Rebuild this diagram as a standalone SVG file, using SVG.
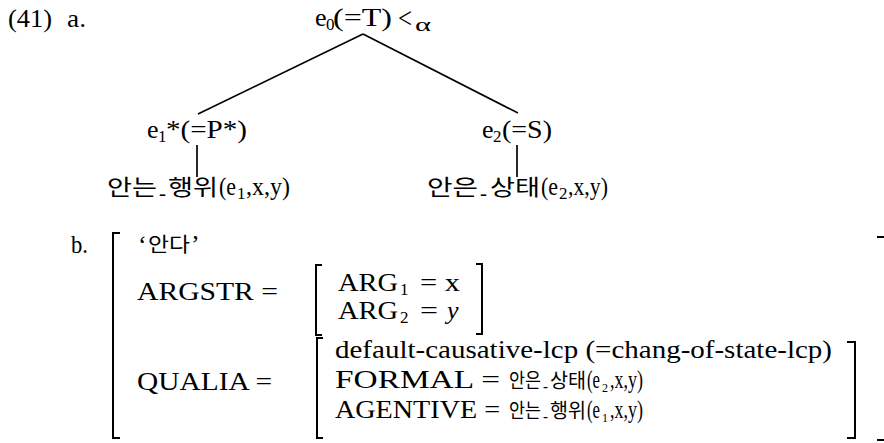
<svg xmlns="http://www.w3.org/2000/svg" width="884" height="443" viewBox="0 0 884 443">
<style>
.t{font-family:"Liberation Serif","Times New Roman",serif;font-size:26px;fill:#000}
.s{font-size:17px}
.k{font-family:"Noto Sans CJK KR","Noto Sans CJK SC",sans-serif;font-size:22px}
.kq{font-family:"Noto Sans CJK KR","Noto Sans CJK SC",sans-serif;font-size:20px}
.i{font-style:italic}
.ln{stroke:#000;stroke-width:1.7;fill:none}
.br{stroke:#000;stroke-width:2;fill:none}
</style>
<rect width="884" height="443" fill="#fff"/>

<g id="labels">
<text class="t" x="8" y="27" textLength="44" lengthAdjust="spacingAndGlyphs">(41)</text>
<text class="t" x="67" y="27" textLength="19" lengthAdjust="spacingAndGlyphs">a.</text>
<text class="t" x="71" y="253" textLength="17" lengthAdjust="spacingAndGlyphs">b.</text>
</g>

<g id="connectors">
<line class="ln" x1="363" y1="34" x2="198" y2="114"/>
<line class="ln" x1="363" y1="34" x2="518" y2="113"/>
<line class="ln" x1="197" y1="145" x2="197" y2="177"/>
<line class="ln" x1="517" y1="145" x2="517" y2="177"/>
</g>

<g id="n-root">
<text class="t" y="26"><tspan x="315">e</tspan><tspan class="s" x="326" dy="4">0</tspan><tspan x="333" dy="-4" textLength="59" lengthAdjust="spacingAndGlyphs">(=T)</tspan><tspan x="398" dy="2" style="font-size:30px" textLength="14" lengthAdjust="spacingAndGlyphs">&lt;</tspan><tspan x="415" dy="3" style="font-size:18px" textLength="16" lengthAdjust="spacingAndGlyphs">α</tspan></text>
</g>

<g id="n-e1">
<text class="t" y="138"><tspan x="147">e</tspan><tspan class="s" x="158" dy="4">1</tspan><tspan x="166" dy="-4" textLength="81" lengthAdjust="spacingAndGlyphs">*(=P*)</tspan></text>
</g>

<g id="n-e2">
<text class="t" y="138"><tspan x="482">e</tspan><tspan class="s" x="493" dy="4">2</tspan><tspan x="502" dy="-4" textLength="50" lengthAdjust="spacingAndGlyphs">(=S)</tspan></text>
</g>

<g id="n-act">
<text class="t" y="195"><tspan class="k" x="107" textLength="50" lengthAdjust="spacingAndGlyphs">안는</tspan><tspan x="159" dy="5" style="font-size:20px" textLength="7" lengthAdjust="spacingAndGlyphs">-</tspan><tspan class="k" x="168" dy="-5" textLength="50" lengthAdjust="spacingAndGlyphs">행위</tspan><tspan x="219" textLength="17" lengthAdjust="spacingAndGlyphs">(e</tspan><tspan class="s" x="237" dy="4">1</tspan><tspan x="246" dy="-4" textLength="44" lengthAdjust="spacingAndGlyphs">,x,y)</tspan></text>
</g>

<g id="n-state">
<text class="t" y="195"><tspan class="k" x="427" textLength="51" lengthAdjust="spacingAndGlyphs">안은</tspan><tspan x="480" dy="5" style="font-size:20px" textLength="7" lengthAdjust="spacingAndGlyphs">-</tspan><tspan class="k" x="490" dy="-5" textLength="50" lengthAdjust="spacingAndGlyphs">상태</tspan><tspan x="541" textLength="17" lengthAdjust="spacingAndGlyphs">(e</tspan><tspan class="s" x="559" dy="4">2</tspan><tspan x="568" dy="-4" textLength="40" lengthAdjust="spacingAndGlyphs">,x,y)</tspan></text>
</g>

<g id="avm">
<path class="br" d="M120,233 H113 V438 H120"/>
<text class="t" y="253"><tspan x="138">‘</tspan><tspan class="kq" x="148" dy="-1" textLength="42" lengthAdjust="spacingAndGlyphs">안다</tspan><tspan x="191" dy="1">’</tspan></text>
<text class="t" x="137" y="300" textLength="141" lengthAdjust="spacingAndGlyphs">ARGSTR =</text>
<text class="t" x="137" y="390" textLength="135" lengthAdjust="spacingAndGlyphs">QUALIA =</text>

<g id="argstr">
<path class="br" d="M322,265 H316 V335 H322"/>
<path class="br" d="M476,264 H482 V334 H476"/>
<text class="t" y="291"><tspan x="338" textLength="60" lengthAdjust="spacingAndGlyphs">ARG</tspan><tspan class="s" x="400" dy="4">1</tspan><tspan x="420" dy="-4" textLength="40" lengthAdjust="spacingAndGlyphs">= x</tspan></text>
<text class="t" y="319"><tspan x="338" textLength="60" lengthAdjust="spacingAndGlyphs">ARG</tspan><tspan class="s" x="400" dy="4">2</tspan><tspan x="420" dy="-4" textLength="18" lengthAdjust="spacingAndGlyphs">=</tspan><tspan class="i" x="447">y</tspan></text>
</g>

<g id="qualia">
<path class="br" d="M323,338 H317 V438 H323"/>
<path class="br" d="M847,342 H855 V438 H847"/>
<text class="t" x="335" y="358" textLength="497" lengthAdjust="spacingAndGlyphs">default-causative-lcp (=chang-of-state-lcp)</text>
<text class="t" y="388"><tspan x="335" textLength="165" lengthAdjust="spacingAndGlyphs">FORMAL =</tspan><tspan class="kq" x="509" textLength="32" lengthAdjust="spacingAndGlyphs">안은</tspan><tspan x="543" dy="4" style="font-size:16px" textLength="5" lengthAdjust="spacingAndGlyphs">-</tspan><tspan class="kq" x="550" dy="-4" textLength="36" lengthAdjust="spacingAndGlyphs">상태</tspan><tspan x="587" textLength="13" lengthAdjust="spacingAndGlyphs">(e</tspan><tspan x="602" dy="4" style="font-size:12px">2</tspan><tspan x="610" dy="-4" textLength="33" lengthAdjust="spacingAndGlyphs">,x,y)</tspan></text>
<text class="t" y="418"><tspan x="335" textLength="165" lengthAdjust="spacingAndGlyphs">AGENTIVE =</tspan><tspan class="kq" x="509" textLength="32" lengthAdjust="spacingAndGlyphs">안는</tspan><tspan x="543" dy="4" style="font-size:16px" textLength="5" lengthAdjust="spacingAndGlyphs">-</tspan><tspan class="kq" x="550" dy="-4" textLength="36" lengthAdjust="spacingAndGlyphs">행위</tspan><tspan x="587" textLength="13" lengthAdjust="spacingAndGlyphs">(e</tspan><tspan x="602" dy="4" style="font-size:12px">1</tspan><tspan x="610" dy="-4" textLength="33" lengthAdjust="spacingAndGlyphs">,x,y)</tspan></text>
</g>
</g>

<g id="marks">
<line x1="877" y1="237" x2="884" y2="237" stroke="#000" stroke-width="2"/>
<line x1="877" y1="440" x2="884" y2="440" stroke="#000" stroke-width="2"/>
</g>
</svg>
